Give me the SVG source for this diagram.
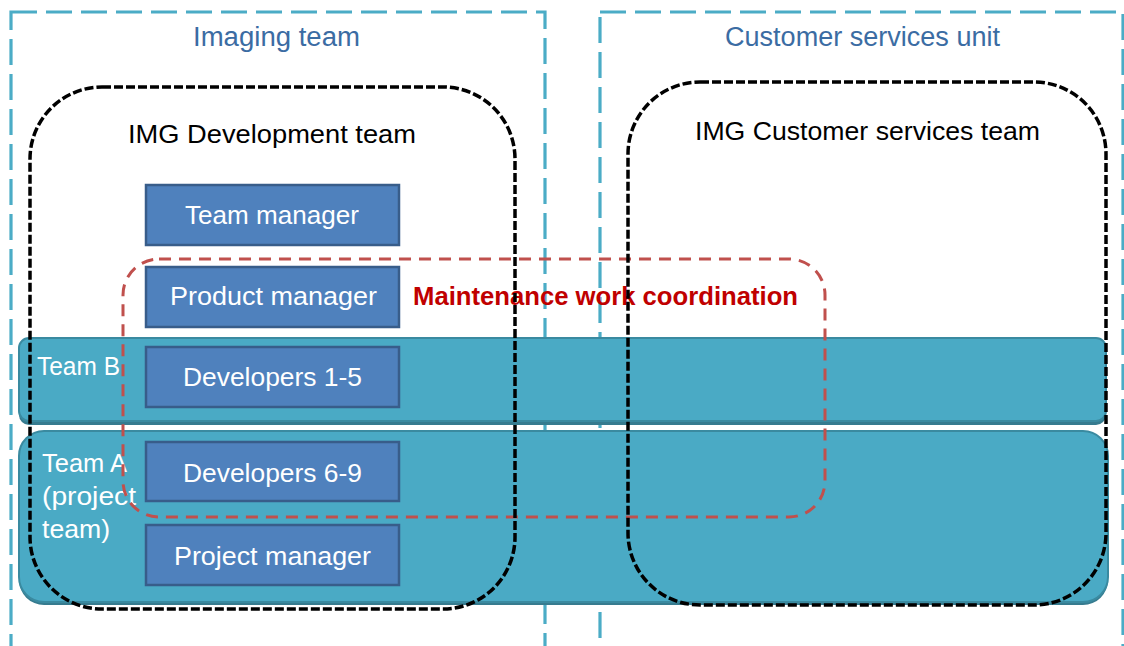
<svg xmlns="http://www.w3.org/2000/svg" width="1124" height="646" viewBox="0 0 1124 646">
  <style>
    .unit { fill: none; stroke: #4bacc6; stroke-width: 3.2; stroke-dasharray: 26 9; }
    .unit-title { font-family: "Liberation Sans", Arial, sans-serif; font-size: 27px; fill: #3b6ca3; }
    .team-title { font-family: "Liberation Sans", Arial, sans-serif; font-size: 26px; fill: #000000; }
    .team { fill: none; stroke: #000000; stroke-width: 3.5; stroke-dasharray: 9 3; }
    .band { fill: #4aaac5; stroke: #3a8aa0; stroke-width: 2; }
    .band-shadow { fill: #367b8f; }
    .band-label { font-family: "Liberation Sans", Arial, sans-serif; font-size: 25px; fill: #ffffff; }
    .role { fill: #4f81bd; stroke: #385d8a; stroke-width: 2.5; }
    .role-label { font-family: "Liberation Sans", Arial, sans-serif; font-size: 25px; fill: #ffffff; }
    .coord { fill: none; stroke: #c0504d; stroke-width: 3; stroke-dasharray: 12 8; }
    .coord-label { font-family: "Liberation Sans", Arial, sans-serif; font-size: 26px; font-weight: bold; fill: #c00000; }
  </style>

  <!-- Organisational units (open at the bottom edge) -->
  <g id="imaging-team">
    <rect class="unit" x="11" y="12" width="534" height="700"/>
    <text class="unit-title" x="193" y="46" textLength="167" lengthAdjust="spacingAndGlyphs">Imaging team</text>
  </g>
  <g id="customer-services-unit">
    <rect class="unit" x="600" y="12" width="523" height="700"/>
    <text class="unit-title" x="725" y="46" textLength="275" lengthAdjust="spacingAndGlyphs">Customer services unit</text>
  </g>

  <!-- Cross-unit bands -->
  <g id="team-b">
    <rect class="band-shadow" x="19" y="341" width="1087" height="84" rx="10"/>
    <rect class="band" x="19" y="338" width="1087" height="83" rx="10"/>
    <text class="band-label" x="37" y="375" textLength="83" lengthAdjust="spacingAndGlyphs">Team B</text>
  </g>
  <g id="team-a">
    <rect class="band-shadow" x="19" y="434" width="1089" height="171" rx="25"/>
    <rect class="band" x="19" y="431" width="1089" height="171" rx="25"/>
    <text class="band-label" x="42" y="472" textLength="85" lengthAdjust="spacingAndGlyphs">Team A</text>
    <text class="band-label" x="42" y="505" textLength="94" lengthAdjust="spacingAndGlyphs">(project</text>
    <text class="band-label" x="42" y="538" textLength="68" lengthAdjust="spacingAndGlyphs">team)</text>
  </g>

  <!-- Roles -->
  <g id="team-manager">
    <rect class="role" x="146" y="185" width="253" height="60"/>
    <text class="role-label" x="185" y="224" textLength="174" lengthAdjust="spacingAndGlyphs">Team manager</text>
  </g>
  <g id="product-manager">
    <rect class="role" x="146" y="267" width="253" height="60"/>
    <text class="role-label" x="170" y="305" textLength="207" lengthAdjust="spacingAndGlyphs">Product manager</text>
  </g>
  <g id="developers-1-5">
    <rect class="role" x="146" y="347" width="253" height="60"/>
    <text class="role-label" x="183" y="386" textLength="179" lengthAdjust="spacingAndGlyphs">Developers 1-5</text>
  </g>
  <g id="developers-6-9">
    <rect class="role" x="146" y="442" width="253" height="59"/>
    <text class="role-label" x="183" y="482" textLength="179" lengthAdjust="spacingAndGlyphs">Developers 6-9</text>
  </g>
  <g id="project-manager">
    <rect class="role" x="146" y="525" width="253" height="60"/>
    <text class="role-label" x="174" y="565" textLength="197" lengthAdjust="spacingAndGlyphs">Project manager</text>
  </g>

  <!-- Maintenance coordination area -->
  <g id="maintenance-coordination">
    <rect class="coord" x="123" y="259" width="702" height="258" rx="36"/>
    <text class="coord-label" x="413" y="305" textLength="385" lengthAdjust="spacingAndGlyphs">Maintenance work coordination</text>
  </g>

  <!-- Teams -->
  <g id="img-development-team">
    <rect class="team" x="30" y="87" width="485" height="522" rx="72"/>
    <text class="team-title" x="128" y="143" textLength="288" lengthAdjust="spacingAndGlyphs">IMG Development team</text>
  </g>
  <g id="img-customer-services-team">
    <rect class="team" x="628" y="82" width="478" height="523" rx="72"/>
    <text class="team-title" x="695" y="140" textLength="345" lengthAdjust="spacingAndGlyphs">IMG Customer services team</text>
  </g>
</svg>
